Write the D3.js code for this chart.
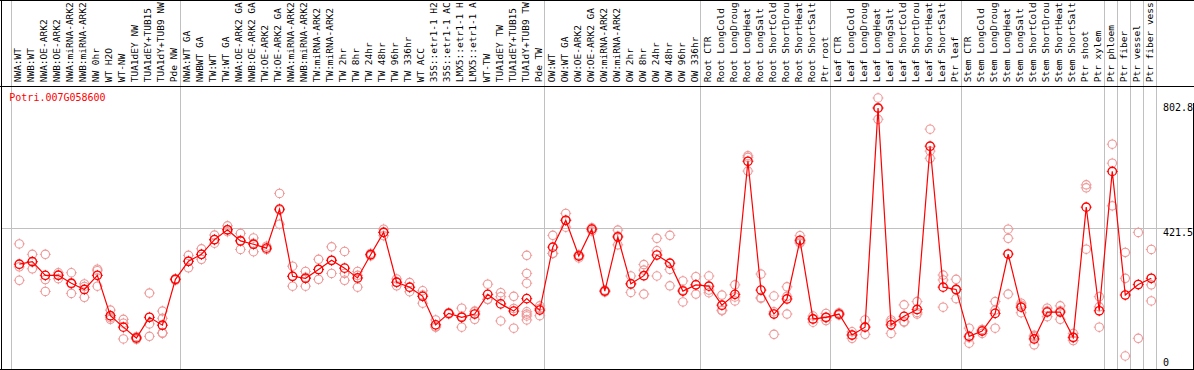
<!DOCTYPE html>
<html><head><meta charset="utf-8">
<script src="https://cdn.jsdelivr.net/npm/d3@7"></script>
<style>body{margin:0;background:#fff} svg{display:block}</style>
</head><body><svg id="c" width="1194" height="370"></svg>
<script>
const categories = [
 "NWA:WT","NWB:WT","NWA:OE-ARK2","NWB:OE-ARK2","NWA:miRNA-ARK2","NWB:miRNA-ARK2","NW 0hr","WT H2O","WT-NW","TUA1dEY NW","TUA1dEY+TUB15","TUA1dY+TUB9 NW","Pde NW",
 "NWA:WT GA","NWBWT GA","TW:WT","TW:WT GA","NWA:OE-ARK2 GA","NWB:OE-ARK2 GA","TW:OE-ARK2","TW:OE-ARK2 GA","NWA:miRNA-ARK2","NWB:miRNA-ARK2","TW:miRNA-ARK2","TW:miRNA-ARK2","TW 2hr","TW 8hr","TW 24hr","TW 48hr","TW 96hr","TW 336hr","WT ACC","35S::etr1-1 H2","35S::etr1-1 AC","LMX5::etr1-1 H","LMX5::etr1-1 A","WT-TW","TUA1dEY TW","TUA1dEY+TUB15","TUA1dY+TUB9 TW","Pde TW",
 "OW:WT","OW:WT GA","OW:OE-ARK2","OW:OE-ARK2 GA","OW:miRNA-ARK2","OW:miRNA-ARK2","OW 2hr","OW 8hr","OW 24hr","OW 48hr","OW 96hr","OW 336hr",
 "Root CTR","Root LongCold","Root LongDroug","Root LongHeat","Root LongSalt","Root ShortCold","Root ShortDrou","Root ShortHeat","Root ShortSalt","Ptr root",
 "Leaf CTR","Leaf LongCold","Leaf LongDroug","Leaf LongHeat","Leaf LongSalt","Leaf ShortCold","Leaf ShortDrou","Leaf ShortHeat","Leaf ShortSalt","Ptr leaf",
 "Stem CTR","Stem LongCold","Stem LongDroug","Stem LongHeat","Stem LongSalt","Stem ShortCold","Stem ShortDrou","Stem ShortHeat","Stem ShortSalt","Ptr shoot","Ptr xylem",
 "Ptr phloem","Ptr fiber","Ptr vessel","Ptr fiber vess"
];
const means = [
 312,320,278,278,254,235,278,155,120,87,150,126,266,
 321,342,387,417,383,373,361,480,275,269,296,324,300,270,341,409,257,242,214,127,162,150,160,220,191,169,207,172,
 364,446,337,419,230,395,252,277,340,315,230,249,
 245,187,220,626,233,160,206,385,145,150,
 160,96,120,788,127,153,174,672,242,235,
 92,108,162,343,181,84,166,166,89,486,170,
 595,218,250,269
];
const replicates = [
 [374,304,263],[342,298,318],[342,265,229],[286,268,280],[286,223,252],[252,211,244],[292,245,297],[172,144,149],[144,132,84],[83,91,87],[224,130,92],[169,147,103,101],[266,268,263],
 [339,301,321],[359,327,342],[401,376,386],[429,411,417],[406,357,385],[392,350,376],[367,357,357],[528,434,477],[306,245,275],[290,245,272],[327,266,296],[365,284,323],[351,284,263],[290,242,278],[345,337,341],[419,399,410],[267,246,257],[256,228,241],[231,193,218],[142,120,121],[164,160,162],[178,120,153],[167,144,169],[251,205,205],[225,213,139],[214,117,177],[339,284,254,167,160,154,142],[185,155,177],
 [400,345,345],[467,425,446],[340,331,340],[423,413,419],[233,227,230],[416,371,398],[276,226,252],[311,294,221],[391,353,276],[400,296,246],[261,197,233],[274,221,250],
 [276,233,225],[218,170,172],[249,200,212],[643,596,638],[282,208,210],[215,98,167],[243,160,214],[399,376,380],[154,135,145],[162,140,148],
 [164,157,160],[106,86,96],[142,98,121],[819,754,790],[142,101,136],[188,137,135],[198,160,165],[724,657,635],[279,264,181],[266,207,234],
 [117,71,88],[113,101,110],[198,117,172],[419,391,221],[193,164,187],[91,66,95],[178,152,169],[185,144,170],[101,79,87],[554,545,358],[213,182,120],
 [678,620,490],[348,269,32],[409,86],[357,249,200]
];
const groupBreaks = [0,13,41,53,63,73,84,85,86,87,88];
const yTicks = [0, 421.5, 802.8];
const geneId = "Potri.007G058600";

const svg = d3.select("#c");
const MONO = "'DejaVu Sans Mono', 'Liberation Mono', monospace";
const x = d3.scaleLinear().domain([0, categories.length]).range([10.7, 1155.7]);
const y = d3.scaleLinear().domain([0, 802.8]).range([366.5, 103.3]);
const px = i => x(i) + 8.6;

const defs = svg.append("defs");
defs.append("clipPath").attr("id","lab").append("rect").attr("x",0).attr("y",1).attr("width",1194).attr("height",85);

// grey group lines
svg.append("g").selectAll("line").data(groupBreaks).join("line")
  .attr("x1", d => Math.round(x(d)) + 0.5).attr("x2", d => Math.round(x(d)) + 0.5)
  .attr("y1", 0).attr("y2", 369)
  .attr("stroke", "#c0c0c0").attr("stroke-width", 1).attr("shape-rendering","crispEdges");

// horizontal grid at middle tick
svg.append("line")
  .attr("x1", 1).attr("x2", 1194)
  .attr("y1", Math.round(y(yTicks[1])) + 0.5).attr("y2", Math.round(y(yTicks[1])) + 0.5)
  .attr("stroke", "#c0c0c0").attr("shape-rendering","crispEdges");

// frame
const frame = svg.append("g").attr("stroke","#000").attr("stroke-width",1).attr("shape-rendering","crispEdges");
frame.append("line").attr("x1",0).attr("x2",1194).attr("y1",0.5).attr("y2",0.5);
frame.append("line").attr("x1",0).attr("x2",1194).attr("y1",86.5).attr("y2",86.5);
frame.append("line").attr("x1",1.5).attr("x2",1.5).attr("y1",0).attr("y2",370);
frame.append("line").attr("x1",0).attr("x2",1194).attr("y1",369.5).attr("y2",369.5);
frame.append("line").attr("x1",1193.5).attr("x2",1193.5).attr("y1",Math.round(y(802.8))).attr("y2",370);

// category labels
svg.append("g").attr("clip-path","url(#lab)").selectAll("text").data(categories).join("text")
  .attr("transform", (d,i) => `translate(${x(i)+10.4},82.3) rotate(-90)`)
  .attr("font-family", MONO).attr("font-size", "9.5px").attr("fill","#000")
  .text(d => d);

// y axis labels via d3 axis
const yAxis = d3.axisRight(y).tickValues(yTicks).tickSize(0).tickPadding(0)
  .tickFormat(d => d === 0 ? "0" : d3.format(".1f")(d));
const ag = svg.append("g").attr("transform","translate(1163,0)").call(yAxis);
ag.select(".domain").remove();
ag.selectAll("text").attr("font-family", MONO).attr("font-size","10px").attr("fill","#000")
  .attr("text-anchor","start").attr("x",0)
  .attr("dy", null)
  .attr("y", d => Math.min(7.6, 365.5 - y(d)));

// title
svg.append("text").attr("x", 9.3).attr("y", 100.5)
  .attr("font-family", MONO).attr("font-size","10px").attr("fill","#ff0000").text(geneId);

function marker(g, cx, cy, color, sw) {
  const r = 4.2;
  g.append("circle").attr("cx",cx).attr("cy",cy).attr("r",r)
    .attr("fill","none").attr("stroke",color).attr("stroke-width",sw);
  g.append("path")
    .attr("d", `M${cx},${cy-r-1.3}V${cy-r+0.3}M${cx},${cy+r-0.3}V${cy+r+1.3}M${cx-r-1.3},${cy}H${cx-r+0.3}M${cx+r-0.3},${cy}H${cx+r+1.3}`)
    .attr("stroke",color).attr("stroke-width",0.9).attr("fill","none");
}

const rg = svg.append("g");
replicates.forEach((arr,i) => arr.forEach(v => marker(rg, px(i), y(v), "#ee9898", 1.1)));

svg.append("path").datum(means)
  .attr("d", d3.line().x((d,i) => px(i)).y(d => y(d)))
  .attr("fill","none").attr("stroke","#ff0000").attr("stroke-width",1.2);

const mg = svg.append("g");
means.forEach((v,i) => marker(mg, px(i), y(v), "#ff0000", 1.35));
</script></body></html>
